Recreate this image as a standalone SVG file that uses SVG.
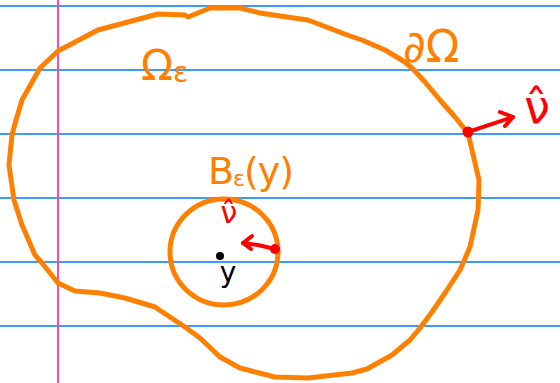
<svg xmlns="http://www.w3.org/2000/svg" width="560" height="383" viewBox="0 0 560 383">
<style>
.rule{stroke:#3a9cff;stroke-width:2}
.margin{stroke:#ff4aa5;stroke-width:2}
.orange{fill:none;stroke:#ff8000;stroke-width:5;stroke-linejoin:round;stroke-linecap:round}
.red{fill:none;stroke:#ff0000;stroke-width:4;stroke-linejoin:round;stroke-linecap:round}
.lbl-o{fill:#ff8000;font-family:"DejaVu Sans","Liberation Sans",sans-serif}
.lbl-r{fill:#ff0000;font-family:"DejaVu Sans","Liberation Sans",sans-serif}
.lbl-k{fill:#000000;font-family:"DejaVu Sans","Liberation Sans",sans-serif}
</style>
<rect width="560" height="383" fill="#ffffff"/>
<g id="paper">
<line class="rule" x1="0" y1="6" x2="560" y2="6"/>
<line class="rule" x1="0" y1="70" x2="560" y2="70"/>
<line class="rule" x1="0" y1="134" x2="560" y2="134"/>
<line class="rule" x1="0" y1="198" x2="560" y2="198"/>
<line class="rule" x1="0" y1="262" x2="560" y2="262"/>
<line class="rule" x1="0" y1="326" x2="560" y2="326"/>
<line class="margin" x1="58" y1="0" x2="58" y2="383"/>
</g>
<g id="omega-region">
<polyline class="orange" points="210,8 240,8 260,13 280,16 308,20 350,36 362,40 385,50 405,62 413,69 425,82 440,100 455,117 468,133 472,150 479,180 478,210 470,247 460,270 445,293 432,312 420,328 410,340 392,355 367,369 352,373 308,378 275,377 240,368 220,357 200,338 185,327 155,307 125,298 100,293 75,291 58,283 50,273 42,263 35,255 22,225 14,200 9,165 12,135 16,120 22,100 40,68 58,51 98,30 158,14 185,15 188,17 210,8"/>
<text class="lbl-o" x="141" y="80" font-size="42">Ω<tspan font-size="28" dy="2">ε</tspan></text>
<text class="lbl-o" x="403" y="62" font-size="44">∂Ω</text>
</g>
<g id="ball">
<ellipse class="orange" cx="224" cy="252" rx="54" ry="53"/>
<text class="lbl-o" x="208" y="184" font-size="38" letter-spacing="-1">B<tspan font-size="22" dy="2">ε</tspan><tspan dy="-2">(y)</tspan></text>
</g>
<g id="center-point">
<circle cx="220" cy="256" r="4" fill="#000000"/>
<text class="lbl-k" x="228" y="282" font-size="28" text-anchor="middle">y</text>
</g>
<g id="connectors">
<circle cx="468" cy="132" r="5.5" fill="#ff0000"/>
<polyline class="red" points="468,132 513,117"/>
<polyline class="red" points="500,112 513,117 505,126"/>
<circle cx="275" cy="249" r="5" fill="#ff0000"/>
<polyline class="red" points="275,249 258,245 243,243"/>
<polyline class="red" points="252,236 243,243 251,249"/>
</g>
<g id="normal-labels">
<text class="lbl-r" x="537" y="123" font-size="46" text-anchor="middle">ν̂</text>
<text class="lbl-r" x="229" y="223" font-size="30" text-anchor="middle">ν̂</text>
</g>
</svg>
